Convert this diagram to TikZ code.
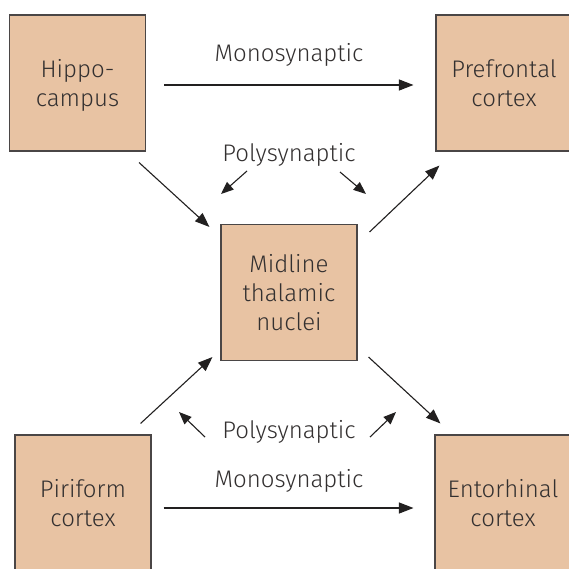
\documentclass[tikz,border=0pt]{standalone}
\usepackage{fontspec}
\setmainfont{Fira Sans}[UprightFont={* Light}]
\usetikzlibrary{arrows.meta,calc}
\definecolor{boxfill}{HTML}{E8C3A3}
\definecolor{boxline}{HTML}{4A4646}
\definecolor{txt}{HTML}{333030}
\definecolor{arr}{HTML}{222020}
\tikzset{
  region/.style={draw=boxline, line width=1.1pt, fill=boxfill, minimum width=136pt, minimum height=136pt, inner sep=0pt, align=center, text=txt, font=\fontsize{24}{29}\selectfont},
  lbl/.style={text=txt, font=\fontsize{24}{29}\selectfont, inner sep=0pt, anchor=base},
  link/.style={draw=arr, line width=1.1pt, -{Triangle[length=14.5pt,width=11pt]}},
  small/.style={draw=arr, line width=1.1pt, -{Triangle[length=12.5pt,width=10pt]}}
}
\begin{document}
\begin{tikzpicture}[x=1pt,y=-1pt]
\clip (0,0) rectangle (569,569);
\fill[white] (0,0) rectangle (569,569);
\node[region] (hip) at (77.5,83) {Hippo-\\\raisebox{0pt}[\height][0pt]{campus}};
\node[region] (pfc) at (504,83) {Prefrontal\\cortex};
\node[region] (mid) at (289,292.5) {Midline\\thalamic\\nuclei};
\node[region] (pir) at (83,503) {Piriform\\cortex};
\node[region] (ent) at (503,503) {Entorhinal\\cortex};
\node[lbl] (mono1) at (289,62) {Monosynaptic};
\node[lbl] (poly1) at (289,162) {Polysynaptic};
\node[lbl] (poly2) at (289,438) {Polysynaptic};
\node[lbl] (mono2) at (289,487) {Monosynaptic};
% monosynaptic
\draw[link] ($(hip.east)+(18,2)$) -- ($(pfc.west)+(-22,2)$);
\draw[link] ($(pir.east)+(12,5)$) -- ($(ent.west)+(-21,5)$);
% diagonals
\draw[link] ($(hip.south east)+(-7,11)$) -- ($(mid.north west)+(-11,3)$);
\draw[link] ($(mid.north east)+(12,8)$) -- ($(pfc.south west)+(4,14)$);
\draw[link] ($(pir.north east)+(-11,-11)$) -- ($(mid.south west)+(-8,-4)$);
\draw[link] ($(mid.south east)+(11,-4)$) -- ($(ent.north west)+(6,-11)$);
% polysynaptic small arrows
\coordinate (a1) at (247,171); \coordinate (b1) at (221,194);
\coordinate (a2) at (340,172); \coordinate (b2) at (366,194);
\coordinate (a3) at (205,437); \coordinate (b3) at (179,412);
\coordinate (a4) at (370,437); \coordinate (b4) at (396,412);
\draw[small] (a1) -- (b1);
\draw[small] (a2) -- (b2);
\draw[small] (a3) -- (b3);
\draw[small] (a4) -- (b4);
\end{tikzpicture}
\end{document}
